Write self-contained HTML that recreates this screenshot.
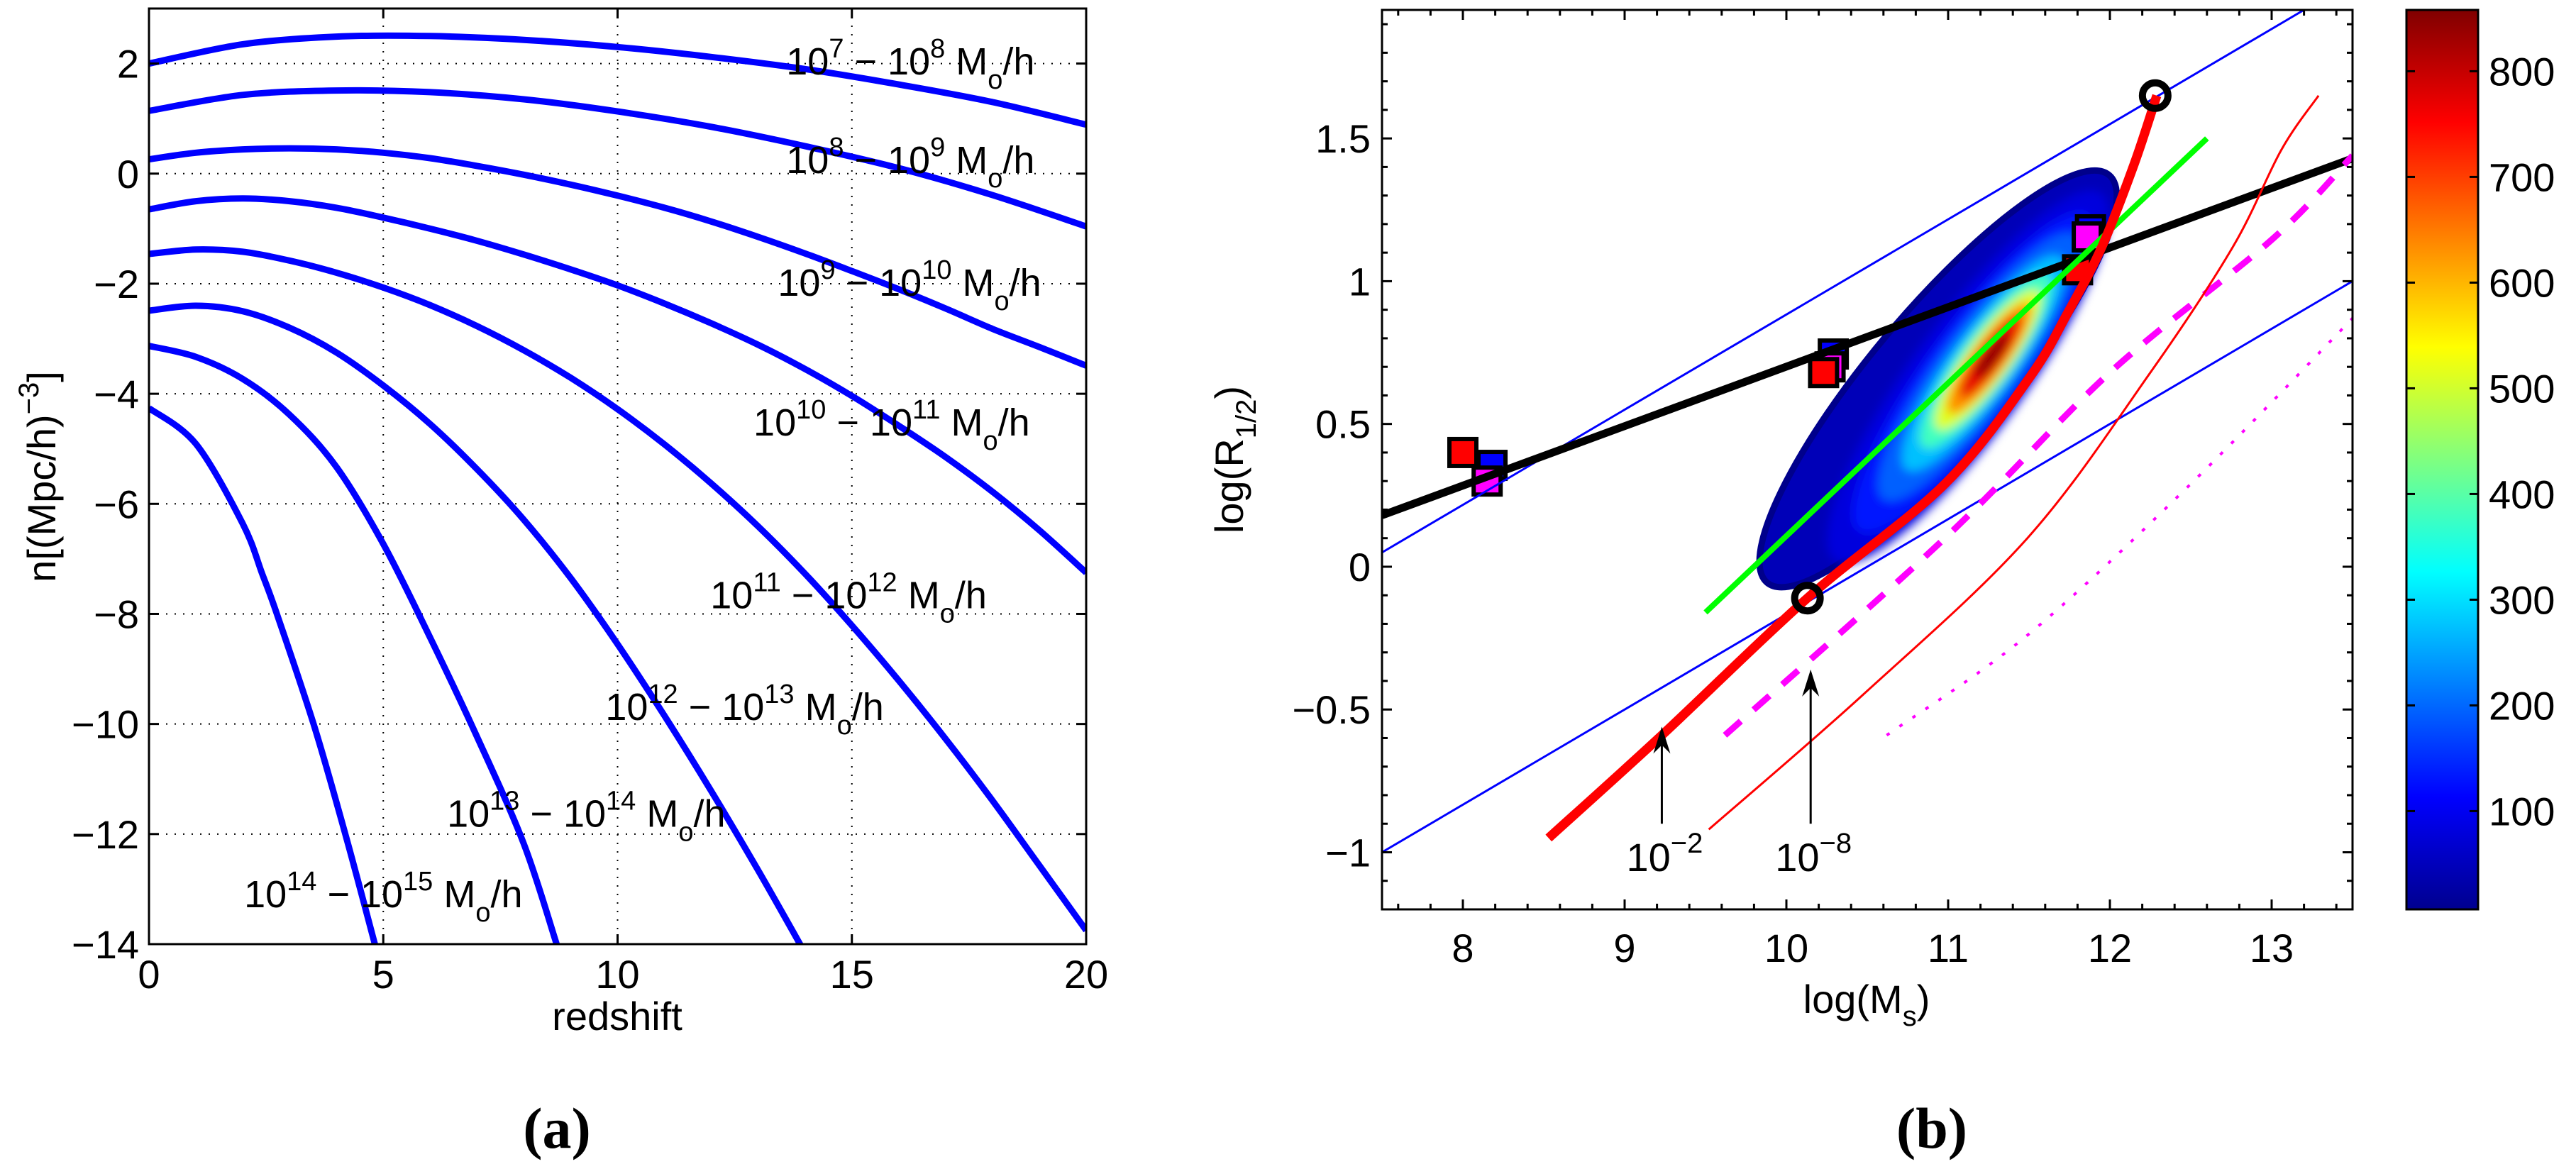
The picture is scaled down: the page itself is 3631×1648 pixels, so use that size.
<!DOCTYPE html>
<html><head><meta charset="utf-8"><title>Halo number density and size–mass relation</title>
<style>
html,body{margin:0;padding:0;background:#fff;}
svg{display:block;font-family:"Liberation Sans",Arial,sans-serif;}
</style></head>
<body>
<svg id="fig" width="3631" height="1648" viewBox="0 0 3631 1648" xmlns="http://www.w3.org/2000/svg">
<defs>
  <linearGradient id="jet" x1="0" y1="1" x2="0" y2="0">
    <stop offset="0" stop-color="#00008f"/>
    <stop offset="0.125" stop-color="#0000ff"/>
    <stop offset="0.375" stop-color="#00ffff"/>
    <stop offset="0.625" stop-color="#ffff00"/>
    <stop offset="0.875" stop-color="#ff0000"/>
    <stop offset="1" stop-color="#800000"/>
  </linearGradient>
  <filter id="blur" x="-50%" y="-50%" width="200%" height="200%"><feGaussianBlur stdDeviation="7"/></filter>
  <clipPath id="clipA"><rect x="210" y="12" width="1321" height="1319"/></clipPath>
  <clipPath id="clipB"><rect x="1948" y="14" width="1368" height="1268"/></clipPath>
</defs>
<g id="panelA"></g>
<g id="panelB"></g>
</svg>
<script>
// ---------- Panel (a) data ----------
const zTicks = [0, 5, 10, 15, 20];
const nTicks = [2, 0, -2, -4, -6, -8, -10, -12, -14];
const massBins = ["7-8","8-9","9-10","10-11","11-12","12-13","13-14","14-15"];
const zA = [0,2,4,6,8,10,12,14,16,18,20];
const nBin78   = [2.0,2.35,2.49,2.5,2.43,2.3,2.12,1.9,1.62,1.3,0.89];
const nBin89   = [1.14,1.43,1.51,1.48,1.35,1.13,0.85,0.5,0.1,-0.39,-0.96];
const zB = [0,1,2,3,4,5,6,7,8,9,10,11,12,13,14,15,16,17,18,19,20];
const nBin910  = [0.26,0.38,0.44,0.46,0.44,0.38,0.28,0.14,-0.02,-0.2,-0.4,-0.62,-0.87,-1.15,-1.45,-1.77,-2.1,-2.45,-2.82,-3.15,-3.49];
const nBin1011 = [-0.65,-0.5,-0.45,-0.5,-0.62,-0.8,-1.0,-1.22,-1.47,-1.74,-2.03,-2.36,-2.72,-3.11,-3.55,-4.04,-4.58,-5.15,-5.78,-6.48,-7.25];
const nBin1112 = [-1.46,-1.38,-1.42,-1.58,-1.8,-2.07,-2.39,-2.77,-3.21,-3.71,-4.28,-4.92,-5.63,-6.41,-7.27,-8.21,-9.21,-10.27,-11.39,-12.57,-13.75];
const zC = [0,1,2,3,4,5,6,7,8,9,10,11,12,13,14];
const nBin1213 = [-2.49,-2.4,-2.5,-2.8,-3.25,-3.85,-4.55,-5.37,-6.29,-7.35,-8.55,-9.85,-11.22,-12.66,-14.16];
const zD = [0,1,2,3,4,5,6,7,8,8.7];
const nBin1314 = [-3.13,-3.33,-3.73,-4.38,-5.33,-6.73,-8.43,-10.23,-12.18,-14];
const zE = [0,1,2,2.42,2.75,3.53,4.19,4.82];
const nBin1415 = [-4.26,-4.91,-6.36,-7.28,-8.05,-10.05,-12.0,-14];
const curveZ = [zA,zA,zB,zB,zB,zC,zD,zE];
const curveN = [nBin78,nBin89,nBin910,nBin1011,nBin1112,nBin1213,nBin1314,nBin1415];
const labelLo = ["7","8","9","10","11","12","13","14"];
const labelHi = ["8","9","10","11","12","13","14","15"];
const labelZ = [13.6,13.6,13.42,12.9,11.98,9.74,6.36,2.03];
const labelN = [1.80,0.01,-2.22,-4.76,-7.9,-9.93,-11.87,-13.33];

// ---------- Panel (b) data ----------
const msTicks = [8,9,10,11,12,13];
const rTicks = [1.5,1,0.5,0,-0.5,-1];
const cbTicks = [100,200,300,400,500,600,700,800];
const cbRange = [7, 858];
const thinBlueUpperX = [7.5, 13.2];
const thinBlueUpperY = [0.05, 1.95];
const thinBlueLowerX = [7.5, 13.5];
const thinBlueLowerY = [-1.0, 1.0];
const blackFitX = [7.5, 13.5];
const blackFitY = [0.18, 1.43];
const greenFitX = [9.5, 12.6];
const greenFitY = [-0.16, 1.5];
const redThickX = [8.53, 9.23, 10.13, 10.98, 11.5, 11.74, 11.95, 12.15, 12.29];
const redThickY = [-0.95, -0.59, -0.11, 0.29, 0.66, 0.89, 1.12, 1.41, 1.65];
const magDashX = [9.62, 10.98, 12.0, 13.01, 13.5];
const magDashY = [-0.59, 0.1, 0.68, 1.15, 1.44];
const redThinX = [9.52, 10.47, 11.49, 12.25, 12.76, 13.06, 13.29];
const redThinY = [-0.92, -0.45, 0.1, 0.68, 1.12, 1.46, 1.65];
const magDotX = [10.62, 11.49, 12.5, 13.5];
const magDotY = [-0.59, -0.24, 0.29, 0.87];
const circleX = [10.13, 12.28];
const circleY = [-0.11, 1.65];
const sqBlackX = [8.18, 10.29, 11.88];
const sqBlackY = [0.355, 0.745, 1.18];
const sqMagX = [8.15, 10.27, 11.86];
const sqMagY = [0.30, 0.70, 1.155];
const sqRedX = [8.0, 10.23, 11.8];
const sqRedY = [0.40, 0.68, 1.04];
const arrowX = [9.23, 10.15];
const arrowTailY = [-0.9, -0.9];
const arrowTipY = [-0.56, -0.36];
const arrowLabel = ["2", "8"];
const densityCenter = [11.21, 0.72];

// ---------- helpers ----------
const NS = "http://www.w3.org/2000/svg";
function mk(tag, attrs, parent){
  const e = document.createElementNS(NS, tag);
  for (const k in attrs) e.setAttribute(k, attrs[k]);
  parent.appendChild(e);
  return e;
}
function smoothPath(pts){
  if (pts.length < 3) return "M" + pts.map(p=>p[0].toFixed(1)+","+p[1].toFixed(1)).join(" L");
  let d = "M" + pts[0][0].toFixed(1) + "," + pts[0][1].toFixed(1);
  for (let i=0;i<pts.length-1;i++){
    const p0 = pts[i-1]||pts[i], p1 = pts[i], p2 = pts[i+1], p3 = pts[i+2]||p2;
    const c1 = [p1[0]+(p2[0]-p0[0])/6, p1[1]+(p2[1]-p0[1])/6];
    const c2 = [p2[0]-(p3[0]-p1[0])/6, p2[1]-(p3[1]-p1[1])/6];
    d += " C"+c1[0].toFixed(1)+","+c1[1].toFixed(1)+" "+c2[0].toFixed(1)+","+c2[1].toFixed(1)+" "+p2[0].toFixed(1)+","+p2[1].toFixed(1);
  }
  return d;
}

// ================= Panel A =================
const A = document.getElementById("panelA");
const aL=210, aR=1531, aT=12, aB=1331;
const xA = z => aL + (z-0)/(20-0)*(aR-aL);
const yA = n => aT + (3-n)/(3-(-14))*(aB-aT);

const gridA = mk("g",{},A);


zTicks.forEach(z=>{ if(z>0&&z<20){ mk("line",{x1:xA(z),y1:aT,x2:xA(z),y2:aB,stroke:"#000","stroke-width":2,"stroke-dasharray":"2,10"},gridA);} });
nTicks.forEach(n=>{ if(n>-14){ mk("line",{x1:aL,y1:yA(n),x2:aR,y2:yA(n),stroke:"#000","stroke-width":2,"stroke-dasharray":"2,10"},gridA);} });

const curvesA = mk("g",{"clip-path":"url(#clipA)"},A);
curveN.forEach((ns,i)=>{
  const pts = ns.map((n,j)=>[xA(curveZ[i][j]), yA(n)]);
  const p = mk("path",{d:smoothPath(pts),fill:"none",stroke:"#0000ff","stroke-width":9,"stroke-linejoin":"round"},curvesA);
  
  
});

const frameA = mk("rect",{x:aL,y:aT,width:aR-aL,height:aB-aT,fill:"none",stroke:"#000","stroke-width":3},A);


zTicks.forEach(z=>{
  mk("line",{x1:xA(z),y1:aB,x2:xA(z),y2:aB-14,stroke:"#000","stroke-width":3},A);
  mk("line",{x1:xA(z),y1:aT,x2:xA(z),y2:aT+14,stroke:"#000","stroke-width":3},A);
  const t = mk("text",{x:xA(z),y:1393,"font-size":56,"text-anchor":"middle"},A);
  t.textContent = z;
  
  
});
nTicks.forEach(n=>{
  mk("line",{x1:aL,y1:yA(n),x2:aL+14,y2:yA(n),stroke:"#000","stroke-width":3},A);
  mk("line",{x1:aR,y1:yA(n),x2:aR-14,y2:yA(n),stroke:"#000","stroke-width":3},A);
  const t = mk("text",{x:196,y:yA(n)+20,"font-size":56,"text-anchor":"end"},A);
  t.textContent = (n<0?"\u2212":"")+Math.abs(n);
  
  
});
const xlabA = mk("text",{x:870,y:1452,"font-size":56,"text-anchor":"middle"},A);
xlabA.textContent = "redshift";


const ylabA = mk("text",{transform:"translate(78,672) rotate(-90)","font-size":56,"text-anchor":"middle"},A);
ylabA.innerHTML = 'n[(Mpc/h)<tspan dy="-24" font-size="40">\u22123</tspan><tspan dy="24">]</tspan>';



labelLo.forEach((lo,i)=>{
  const t = mk("text",{x:xA(labelZ[i]),y:yA(labelN[i]),"font-size":54},A);
  t.innerHTML = '10<tspan dy="-24" font-size="38">'+lo+'</tspan><tspan dy="24"> \u2212 10</tspan><tspan dy="-24" font-size="38">'+labelHi[i]+'</tspan><tspan dy="24"> M</tspan><tspan dy="20" font-size="38">o</tspan><tspan dy="-20">/h</tspan>';
  
  
});
const capA = mk("text",{x:785,y:1618,"font-size":82,"font-family":"Liberation Serif, serif","font-weight":"bold","text-anchor":"middle"},A);
capA.textContent = "(a)";



// ================= Panel B =================
const B = document.getElementById("panelB");
const bL=1948, bR=3316, bT=14, bB=1282;
const xB = v => bL + (v-7.5)/(13.5-7.5)*(bR-bL);
const yB = v => bT + (1.95-v)/(1.95-(-1.2))*(bB-bT);
const plotB = mk("g",{"clip-path":"url(#clipB)"},B);

// density blob
const blob = mk("g",{},plotB);


const cx = xB(densityCenter[0]), cy = yB(densityCenter[1]);
const ocx = cx-62, ocy = cy+25;
mk("ellipse",{cx:ocx,cy:ocy,rx:375,ry:95,fill:"#0000b8",stroke:"#00008b","stroke-width":9,"stroke-linejoin":"round",transform:"rotate(-50 "+ocx+" "+ocy+")"},blob);
const layers = [[-20,22,320,80,"#0000dd"],[-12,16,275,66,"#0018ff"],[-4,8,230,55,"#0060ff"],[2,3,185,45,"#00c0ff"],[5,0,150,37,"#40ffc0"],[8,-2,120,30,"#e0ff20"],[10,-4,95,24,"#ff9000"],[12,-6,70,17,"#e80000"],[14,-8,38,10,"#900000"]];
const blobFill = mk("g",{filter:"url(#blur)"},blob);
layers.forEach(l=>{
  const ex=cx+l[0], ey=cy+l[1];
  mk("ellipse",{cx:ex,cy:ey,rx:l[2],ry:l[3],fill:l[4],transform:"rotate(-54 "+ex+" "+ey+")"},blobFill);
});

// squares
function squares(xs,ys,fill,name){
  xs.forEach((v,i)=>{
    const r = mk("rect",{x:xB(v)-19,y:yB(ys[i])-19,width:38,height:38,fill:fill,stroke:"#000","stroke-width":6},plotB);
    
    
  });
}
squares(sqBlackX,sqBlackY,"#0000ff","square-black");
squares(sqMagX,sqMagY,"#ff00ff","square-magenta");
squares(sqRedX,sqRedY,"#ff0000","square-red");

function line(xs,ys,attrs,name,smooth){
  const pts = xs.map((v,i)=>[xB(v),yB(ys[i])]);
  const a = Object.assign({d:smooth?smoothPath(pts):"M"+pts.map(p=>p[0]+","+p[1]).join(" L"),fill:"none"},attrs);
  const p = mk("path",a,plotB);
  
  
}
line(thinBlueUpperX,thinBlueUpperY,{stroke:"#0000ff","stroke-width":3},"upper-blue-bound",false);
line(thinBlueLowerX,thinBlueLowerY,{stroke:"#0000ff","stroke-width":3},"lower-blue-bound",false);
line(blackFitX,blackFitY,{stroke:"#000","stroke-width":11},"black-fit-line",false);
line(greenFitX,greenFitY,{stroke:"#00ff00","stroke-width":8},"green-fit-line",false);
line(magDashX,magDashY,{stroke:"#ff00ff","stroke-width":9,"stroke-dasharray":"30,24"},"magenta-dashed-line",true);
line(redThinX,redThinY,{stroke:"#ff0000","stroke-width":3},"thin-red-line",true);
line(magDotX,magDotY,{stroke:"#ff00ff","stroke-width":4,"stroke-dasharray":"5,17"},"magenta-dotted-line",true);
line(redThickX,redThickY,{stroke:"#ff0000","stroke-width":13,"stroke-linecap":"butt"},"red-thick-curve",true);

circleX.forEach((v,i)=>{
  const c = mk("circle",{cx:xB(v),cy:yB(circleY[i]),r:18,fill:"none",stroke:"#000","stroke-width":10},plotB);
  
  
});

// arrows and labels
arrowX.forEach((v,i)=>{
  const x=xB(v), y1=yB(arrowTailY[i]), y2=yB(arrowTipY[i]);
  const g = mk("g",{},B);
  
  
  mk("line",{x1:x,y1:y1,x2:x,y2:y2+6,stroke:"#000","stroke-width":3},g);
  mk("path",{d:"M"+x+","+y2+" L"+(x-12)+","+(y2+38)+" L"+x+","+(y2+26)+" L"+(x+12)+","+(y2+38)+" Z",fill:"#000"},g);
  const t = mk("text",{x:x-50,y:1228,"font-size":56},g);
  t.innerHTML = '10<tspan dy="-26" font-size="40">\u2212'+arrowLabel[i]+'</tspan>';
});

// frame and ticks
const frameB = mk("rect",{x:bL,y:bT,width:bR-bL,height:bB-bT,fill:"none",stroke:"#000","stroke-width":3},B);


for (let v=7.6; v<13.5; v+=0.2){
  const major = Math.abs(v-Math.round(v))<0.01;
  const L = major?14:8;
  mk("line",{x1:xB(v),y1:bB,x2:xB(v),y2:bB-L,stroke:"#000","stroke-width":3},B);
  mk("line",{x1:xB(v),y1:bT,x2:xB(v),y2:bT+L,stroke:"#000","stroke-width":3},B);
}
for (let v=-1.1; v<1.95; v+=0.1){
  const major = Math.abs(v*2-Math.round(v*2))<0.01;
  const L = major?14:8;
  mk("line",{x1:bL,y1:yB(v),x2:bL+L,y2:yB(v),stroke:"#000","stroke-width":3},B);
  mk("line",{x1:bR,y1:yB(v),x2:bR-L,y2:yB(v),stroke:"#000","stroke-width":3},B);
}
msTicks.forEach(v=>{
  const t = mk("text",{x:xB(v),y:1356,"font-size":56,"text-anchor":"middle"},B);
  t.textContent = v;
  
  
});
rTicks.forEach(v=>{
  const t = mk("text",{x:1932,y:yB(v)+20,"font-size":56,"text-anchor":"end"},B);
  t.textContent = (v<0?"\u2212":"")+Math.abs(v);
  
  
});
const xlabB = mk("text",{x:2631,y:1428,"font-size":56,"text-anchor":"middle"},B);
xlabB.innerHTML = 'log(M<tspan dy="18" font-size="40">s</tspan><tspan dy="-18">)</tspan>';


const ylabB = mk("text",{transform:"translate(1752,648) rotate(-90)","font-size":56,"text-anchor":"middle"},B);
ylabB.innerHTML = 'log(R<tspan dy="18" font-size="40">1/2</tspan><tspan dy="-18">)</tspan>';



// colorbar
const cbL=3392, cbR=3493, cbT=14, cbB=1282;
const yCB = v => cbB - (v-cbRange[0])/(cbRange[1]-cbRange[0])*(cbB-cbT);
const cb = mk("rect",{x:cbL,y:cbT,width:cbR-cbL,height:cbB-cbT,fill:"url(#jet)",stroke:"#000","stroke-width":3},B);


cbTicks.forEach(v=>{
  mk("line",{x1:cbL,y1:yCB(v),x2:cbL+12,y2:yCB(v),stroke:"#000","stroke-width":3},B);
  mk("line",{x1:cbR,y1:yCB(v),x2:cbR-12,y2:yCB(v),stroke:"#000","stroke-width":3},B);
  const t = mk("text",{x:3508,y:yCB(v)+20,"font-size":56},B);
  t.textContent = v;
  
  
});
const capB = mk("text",{x:2723,y:1618,"font-size":82,"font-family":"Liberation Serif, serif","font-weight":"bold","text-anchor":"middle"},B);
capB.textContent = "(b)";


</script>
</body></html>
